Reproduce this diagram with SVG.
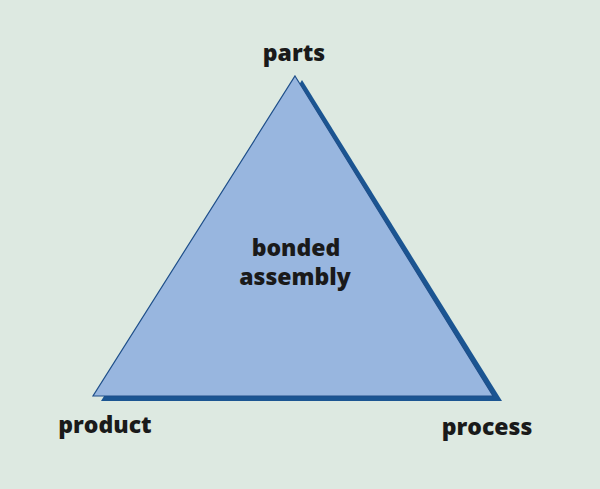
<svg xmlns="http://www.w3.org/2000/svg" width="600" height="489" viewBox="0 0 600 489">
<style>
.lbl{font-family:"Open Sans","Noto Sans","Liberation Sans",sans-serif;font-weight:800;font-size:23px;fill:#1a1a1a}
</style>
<rect width="600" height="489" fill="#dde9e1"/>
<g id="triangle">
<polygon points="302,80 502,401 101,401" fill="#1b5592"/>
<polygon points="295,76 493,396 93,396" fill="#98b6df" stroke="#1f4f8a" stroke-width="1.2" stroke-linejoin="miter"/>
<text class="lbl" x="296" y="256" text-anchor="middle">bonded</text>
<text class="lbl" x="295" y="285" text-anchor="middle">assembly</text>
</g>
<g id="parts"><text class="lbl" x="294" y="61" text-anchor="middle">parts</text></g>
<g id="product"><text class="lbl" x="105" y="433" text-anchor="middle">product</text></g>
<g id="process"><text class="lbl" x="487" y="435" text-anchor="middle">process</text></g>
<g id="connectors"/>
</svg>
